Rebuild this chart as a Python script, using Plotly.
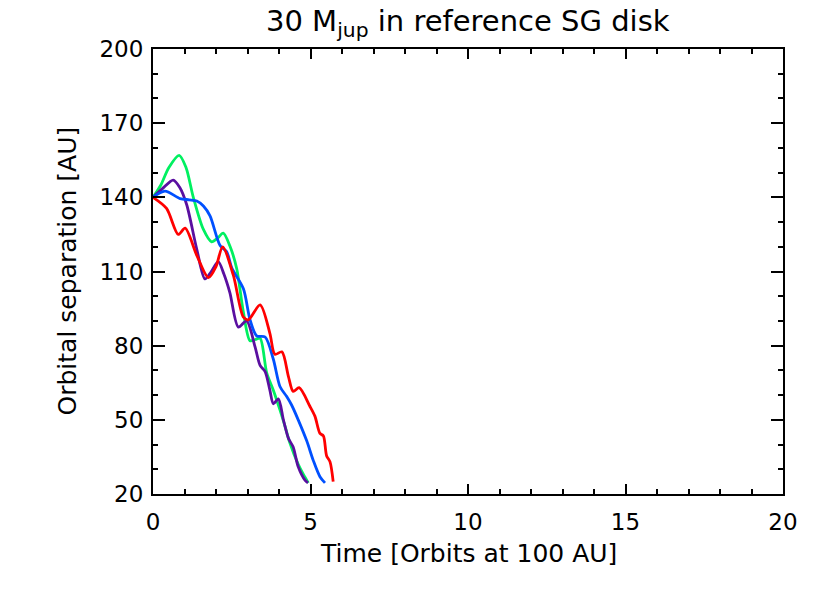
import plotly.graph_objects as go

# Time [orbits at 100 AU] and orbital separation [AU] for each run
green_t = [0, 0.25, 0.5, 0.83, 1.05, 1.28, 1.6, 1.86, 2.05, 2.23, 2.45, 2.66, 2.87, 3.08, 3.25, 3.4, 3.61, 3.82, 4.03, 4.2, 4.35, 4.61, 4.77, 4.93]
green_a = [140, 145, 152, 157, 152, 140, 127, 122, 123.5, 125.5, 120, 111, 93.5, 82, 82.5, 83, 69, 62, 54, 47, 40.5, 32, 28, 24.5]

purple_t = [0, 0.3, 0.64, 0.85, 1.07, 1.39, 1.65, 1.85, 2.07, 2.25, 2.44, 2.71, 2.97, 3.24, 3.4, 3.56, 3.71, 3.82, 3.98, 4.14, 4.3, 4.45, 4.61, 4.83, 4.92]
purple_a = [140, 143.5, 147, 144, 137, 119, 107, 110, 114, 109, 101.5, 87.5, 90, 79.5, 72, 69.5, 62, 56.5, 58.5, 50, 42.5, 39, 31, 25.5, 24.5]

blue_t = [0, 0.38, 0.86, 1.15, 1.39, 1.6, 1.81, 2.13, 2.34, 2.5, 2.87, 3.08, 3.29, 3.56, 3.82, 4.03, 4.24, 4.4, 4.61, 4.88, 5.09, 5.3, 5.46]
blue_a = [140, 142.5, 139.5, 139, 138.5, 136.5, 132.5, 120.5, 118, 111.5, 103, 90.5, 84, 83.5, 74.5, 63.5, 59.5, 56, 50, 41.5, 33.5, 27, 24.5]

red_t = [0, 0.43, 0.8, 1.02, 1.39, 1.76, 2.0, 2.21, 2.55, 2.87, 3.03, 3.4, 3.71, 3.87, 4.09, 4.3, 4.45, 4.64, 4.98, 5.14, 5.3, 5.41, 5.51, 5.62, 5.72]
red_a = [140, 135.5, 125, 127.5, 116.5, 107.5, 112, 120, 108.5, 91.5, 90.5, 96.5, 85, 76.5, 77.5, 67.5, 61.5, 63, 55.5, 51.5, 44.5, 43.5, 35.5, 33, 25]

x_ticks = [0, 5, 10, 15, 20]
y_ticks = [20, 50, 80, 110, 140, 170, 200]

title_text = "30 M<sub>jup</sub> in reference SG disk"
x_title = "Time [Orbits at 100 AU]"
y_title = "Orbital separation [AU]"

series = [
    (green_t, green_a, "#00F060"),
    (purple_t, purple_a, "#5A0FA0"),
    (blue_t, blue_a, "#0050FF"),
    (red_t, red_a, "#FF0000"),
]

fig = go.Figure()
for t, a, c in series:
    fig.add_trace(go.Scatter(x=t, y=a, mode="lines",
                             line=dict(color=c, width=2.8, shape="spline", smoothing=0.8),
                             showlegend=False, hoverinfo="skip"))

font_family = "DejaVu Sans, Verdana, sans-serif"

fig.update_layout(
    width=830, height=593,
    margin=dict(l=145, r=55, t=41, b=107, autoexpand=False),
    paper_bgcolor="white", plot_bgcolor="white",
    font=dict(family=font_family, color="black", size=23),
    annotations=[
        dict(text=title_text, xref="paper", yref="paper", x=(467.5 - 153) / 630,
             y=1 + 26 / 445, xanchor="center", yanchor="middle", showarrow=False,
             font=dict(size=29)),
        dict(text=x_title, xref="paper", yref="paper", x=0.5, y=-(553 - 494) / 445,
             xanchor="center", yanchor="middle", showarrow=False, font=dict(size=25)),
        dict(text=y_title, xref="paper", yref="paper", x=-(153 - 67) / 630, y=0.5,
             xanchor="center", yanchor="middle", showarrow=False, textangle=-90,
             font=dict(size=25)),
    ],
)

fig.update_xaxes(
    range=[0, 20], tickvals=x_ticks, ticktext=[str(v) for v in x_ticks],
    showgrid=False, zeroline=False, showline=True, linecolor="black", linewidth=2,
    mirror="allticks", ticks="inside", ticklen=10, tickwidth=2, tickcolor="black",
    tickfont=dict(size=23), ticklabelstandoff=6, automargin=False,
    minor=dict(dtick=1, ticks="inside", ticklen=5, tickwidth=2, tickcolor="black", showgrid=False),
)
fig.update_yaxes(
    range=[20, 200], tickvals=y_ticks, ticktext=[str(v) for v in y_ticks],
    showgrid=False, zeroline=False, showline=True, linecolor="black", linewidth=2,
    mirror="allticks", ticks="inside", ticklen=12, tickwidth=2, tickcolor="black",
    tickfont=dict(size=23), ticklabelstandoff=3, automargin=False,
    minor=dict(dtick=10, tick0=20, ticks="inside", ticklen=5, tickwidth=2, tickcolor="black", showgrid=False),
)

fig.write_html("out.html")
